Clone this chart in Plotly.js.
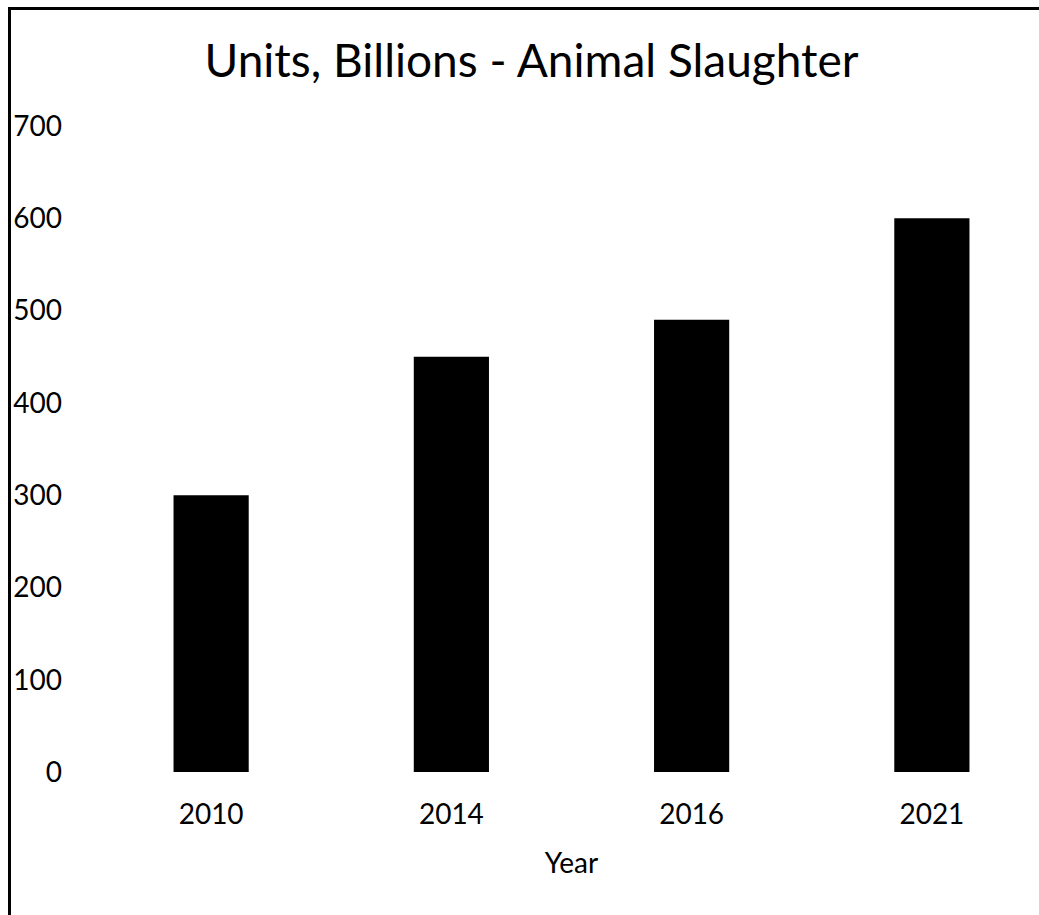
<!DOCTYPE html>
<html>
<head>
<meta charset="utf-8">
<script src="https://cdn.plot.ly/plotly-3.0.1.min.js"></script>
<style>
html, body { margin: 0; padding: 0; overflow: hidden; background: #fff; width: 1039px; height: 915px; }
#wrap { position: relative; width: 1039px; height: 915px; overflow: hidden; }
#chart { position: absolute; left: 0; top: 0; width: 1063px; height: 915px; }
#frame { position: absolute; left: 8px; top: 7px; width: 1100px; height: 1000px;
         border-top: 3px solid #000; border-left: 3px solid #000; pointer-events: none; }
</style>
</head>
<body>
<div id="wrap">
  <div id="chart"></div>
  <div id="frame"></div>
</div>
<script>
const years = ["2010", "2014", "2016", "2021"];
const slaughterBillions = [300, 450, 490, 600];
const yTickValues = [0, 100, 200, 300, 400, 500, 600, 700];
const chartTitle = "Units, Billions - Animal Slaughter";
const xTitle = "Year";

const FONT = "Lato, 'Open Sans', sans-serif";

const trace = {
  type: "bar",
  x: years,
  y: slaughterBillions,
  marker: { color: "#000000", line: { width: 0 } },
  hoverinfo: "x+y"
};

const layout = {
  width: 1063,
  height: 915,
  paper_bgcolor: "#ffffff",
  plot_bgcolor: "#ffffff",
  margin: { l: 91, r: 11, t: 126, b: 143, pad: 0 },
  bargap: 0.687,
  showlegend: false,
  font: { family: FONT, color: "#000000", size: 28 },
  title: {
    text: chartTitle,
    font: { family: FONT, size: 46, color: "#000000" },
    x: 0.5, xref: "container", xanchor: "center",
    y: 0.9333, yref: "container", yanchor: "middle"
  },
  xaxis: {
    type: "category",
    range: [-0.5, 3.5],
    showline: false,
    showgrid: false,
    zeroline: false,
    ticks: "",
    ticklabelstandoff: 23,
    tickfont: { family: FONT, size: 28, color: "#000000" },
    title: { text: xTitle, font: { family: FONT, size: 28, color: "#000000" }, standoff: 24 }
  },
  yaxis: {
    range: [0, 700],
    tickvals: yTickValues,
    ticktext: yTickValues.map(String),
    showline: false,
    showgrid: false,
    zeroline: false,
    ticks: "",
    ticklabelstandoff: 28,
    tickfont: { family: FONT, size: 28, color: "#000000" }
  }
};

Plotly.newPlot("chart", [trace], layout, { displayModeBar: false, staticPlot: true });
</script>
</body>
</html>
